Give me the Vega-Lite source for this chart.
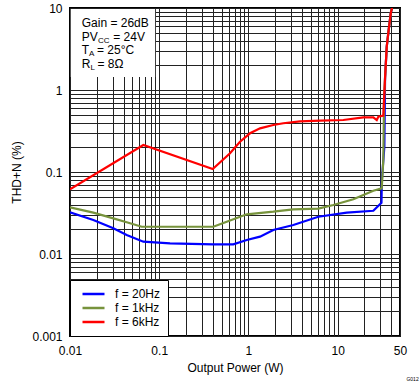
{
  "$schema": "https://vega.github.io/schema/vega-lite/v6.json",
  "width": 330,
  "height": 328,
  "autosize": {"type": "none"},
  "padding": {"left": 70, "top": 8, "right": 19, "bottom": 46},
  "background": "white",
  "title": {"text": "G012", "orient": "bottom", "anchor": "end", "fontSize": 5, "font": "Liberation Sans", "fontWeight": "normal", "dx": 12, "offset": 4, "color": "#000"},
  "config": {
    "font": "Liberation Sans",
    "view": {"stroke": "#000", "strokeWidth": 2},
    "axis": {
      "grid": true, "gridColor": "#222", "gridWidth": 1, "gridOpacity": 1,
      "ticks": false, "domain": false,
      "labelFont": "Liberation Sans", "labelFontSize": 12, "labelColor": "#000",
      "titleFont": "Liberation Sans", "titleFontSize": 12, "titleFontWeight": "normal", "titleColor": "#000",
      "labelOverlap": false, "labelFlush": false, "labelBound": false
    },
    "legend": {
      "orient": "bottom-left", "offset": 0, "fillColor": "white", "strokeColor": "#000",
      "padding": 7, "symbolType": "stroke", "symbolSize": 484, "symbolStrokeWidth": 2.5,
      "labelFont": "Liberation Sans", "labelFontSize": 12, "labelColor": "#000", "labelOffset": 9,
      "symbolOffset": 4, "rowPadding": 0, "clipHeight": 14
    }
  },
  "datasets": {
    "curves": [
      {"s": "f = 20Hz", "p": 0.01, "thd": 0.0323},
      {"s": "f = 20Hz", "p": 0.01825, "thd": 0.026},
      {"s": "f = 20Hz", "p": 0.0306, "thd": 0.0206},
      {"s": "f = 20Hz", "p": 0.0432, "thd": 0.01706},
      {"s": "f = 20Hz", "p": 0.0664, "thd": 0.01413},
      {"s": "f = 20Hz", "p": 0.1322, "thd": 0.0135},
      {"s": "f = 20Hz", "p": 0.404, "thd": 0.01313},
      {"s": "f = 20Hz", "p": 0.677, "thd": 0.01313},
      {"s": "f = 20Hz", "p": 0.957, "thd": 0.0148},
      {"s": "f = 20Hz", "p": 1.349, "thd": 0.01626},
      {"s": "f = 20Hz", "p": 1.901, "thd": 0.01963},
      {"s": "f = 20Hz", "p": 3.186, "thd": 0.0226},
      {"s": "f = 20Hz", "p": 6.075, "thd": 0.0285},
      {"s": "f = 20Hz", "p": 12.65, "thd": 0.0319},
      {"s": "f = 20Hz", "p": 25.13, "thd": 0.0337},
      {"s": "f = 20Hz", "p": 31.0, "thd": 0.0422},
      {"s": "f = 20Hz", "p": 31.3, "thd": 0.0799},
      {"s": "f = 20Hz", "p": 33.4, "thd": 0.2035},
      {"s": "f = 20Hz", "p": 34.0, "thd": 1.4},
      {"s": "f = 20Hz", "p": 35.5, "thd": 3.37},
      {"s": "f = 20Hz", "p": 37.0, "thd": 4.96},
      {"s": "f = 20Hz", "p": 39.4, "thd": 8.69},
      {"s": "f = 20Hz", "p": 40.7, "thd": 10},
      {"s": "f = 1kHz", "p": 0.01, "thd": 0.0371},
      {"s": "f = 1kHz", "p": 0.01825, "thd": 0.0319},
      {"s": "f = 1kHz", "p": 0.0306, "thd": 0.0272},
      {"s": "f = 1kHz", "p": 0.0432, "thd": 0.02435},
      {"s": "f = 1kHz", "p": 0.0637, "thd": 0.0215},
      {"s": "f = 1kHz", "p": 0.404, "thd": 0.0215},
      {"s": "f = 1kHz", "p": 0.571, "thd": 0.0248},
      {"s": "f = 1kHz", "p": 0.957, "thd": 0.0305},
      {"s": "f = 1kHz", "p": 1.901, "thd": 0.0328},
      {"s": "f = 1kHz", "p": 3.186, "thd": 0.0351},
      {"s": "f = 1kHz", "p": 6.075, "thd": 0.0357},
      {"s": "f = 1kHz", "p": 8.95, "thd": 0.0396},
      {"s": "f = 1kHz", "p": 15.0, "thd": 0.0465},
      {"s": "f = 1kHz", "p": 25.13, "thd": 0.0592},
      {"s": "f = 1kHz", "p": 31.2, "thd": 0.0633},
      {"s": "f = 1kHz", "p": 32.5, "thd": 0.14},
      {"s": "f = 1kHz", "p": 33.1, "thd": 0.755},
      {"s": "f = 1kHz", "p": 34.0, "thd": 1.4},
      {"s": "f = 1kHz", "p": 35.5, "thd": 3.37},
      {"s": "f = 1kHz", "p": 37.0, "thd": 4.96},
      {"s": "f = 1kHz", "p": 39.4, "thd": 8.69},
      {"s": "f = 1kHz", "p": 40.7, "thd": 10},
      {"s": "f = 6kHz", "p": 0.01, "thd": 0.0615},
      {"s": "f = 6kHz", "p": 0.0664, "thd": 0.2135},
      {"s": "f = 6kHz", "p": 0.398, "thd": 0.1088},
      {"s": "f = 6kHz", "p": 0.622, "thd": 0.169},
      {"s": "f = 6kHz", "p": 0.805, "thd": 0.234},
      {"s": "f = 6kHz", "p": 1.042, "thd": 0.2965},
      {"s": "f = 6kHz", "p": 1.349, "thd": 0.341},
      {"s": "f = 6kHz", "p": 1.901, "thd": 0.374},
      {"s": "f = 6kHz", "p": 2.462, "thd": 0.393},
      {"s": "f = 6kHz", "p": 3.789, "thd": 0.415},
      {"s": "f = 6kHz", "p": 6.35, "thd": 0.422},
      {"s": "f = 6kHz", "p": 11.58, "thd": 0.4305},
      {"s": "f = 6kHz", "p": 19.42, "thd": 0.4647},
      {"s": "f = 6kHz", "p": 25.13, "thd": 0.4647},
      {"s": "f = 6kHz", "p": 27.44, "thd": 0.4305},
      {"s": "f = 6kHz", "p": 28.6, "thd": 0.4725},
      {"s": "f = 6kHz", "p": 32.5, "thd": 0.486},
      {"s": "f = 6kHz", "p": 33.1, "thd": 0.755},
      {"s": "f = 6kHz", "p": 34.0, "thd": 1.4},
      {"s": "f = 6kHz", "p": 35.5, "thd": 3.37},
      {"s": "f = 6kHz", "p": 37.0, "thd": 4.96},
      {"s": "f = 6kHz", "p": 39.4, "thd": 8.69},
      {"s": "f = 6kHz", "p": 40.7, "thd": 10}
    ],
    "box": [{"x1": 0.0102, "x2": 0.09, "y1": 1.44, "y2": 9.7}],
    "main": [
      {"t": "Gain = 26dB", "x": 0.01353, "y": 5.815},
      {"t": "PV", "x": 0.01353, "y": 3.993},
      {"t": "= 24V", "x": 0.0305, "y": 3.993},
      {"t": "T", "x": 0.01353, "y": 2.748},
      {"t": "= 25°C", "x": 0.02008, "y": 2.748},
      {"t": "R", "x": 0.01353, "y": 1.871},
      {"t": "= 8Ω", "x": 0.02034, "y": 1.871}
    ],
    "sub": [
      {"t": "CC", "x": 0.0206, "y": 3.721},
      {"t": "A", "x": 0.01633, "y": 2.562},
      {"t": "L", "x": 0.01693, "y": 1.744}
    ]
  },
  "encoding": {
    "x": {
      "field": "p", "type": "quantitative",
      "scale": {"type": "log", "domain": [0.01, 50], "nice": false},
      "axis": {
        "title": "Output Power (W)", "titlePadding": 6, "labelPadding": 9,
        "values": [0.01,0.02,0.03,0.04,0.05,0.06,0.07,0.08,0.09,0.1,0.2,0.3,0.4,0.5,0.6,0.7,0.8,0.9,1,2,3,4,5,6,7,8,9,10,20,30,40,50],
        "labelExpr": "indexof([0.01,0.1,1,10,50], datum.value) >= 0 ? format(datum.value, '~g') : ''"
      }
    },
    "y": {
      "field": "thd", "type": "quantitative",
      "scale": {"type": "log", "domain": [0.001, 10], "nice": false},
      "axis": {
        "title": "THD+N (%)", "titlePadding": 8, "labelPadding": 8,
        "values": [0.001,0.002,0.003,0.004,0.005,0.006,0.007,0.008,0.009,0.01,0.02,0.03,0.04,0.05,0.06,0.07,0.08,0.09,0.1,0.2,0.3,0.4,0.5,0.6,0.7,0.8,0.9,1,2,3,4,5,6,7,8,9,10],
        "labelExpr": "indexof([0.001,0.01,0.1,1,10], datum.value) >= 0 ? format(datum.value, '~g') : ''"
      }
    }
  },
  "layer": [
    {
      "data": {"name": "box"},
      "mark": {"type": "rect", "fill": "white", "stroke": null},
      "encoding": {
        "x": {"field": "x1", "type": "quantitative"},
        "x2": {"field": "x2"},
        "y": {"field": "y1", "type": "quantitative"},
        "y2": {"field": "y2"}
      }
    },
    {
      "data": {"name": "curves"},
      "mark": {"type": "line", "strokeWidth": 2.2, "clip": true},
      "encoding": {
        "color": {
          "field": "s", "type": "nominal",
          "scale": {"domain": ["f = 20Hz", "f = 1kHz", "f = 6kHz"], "range": ["#0000FF", "#77933C", "#FF0000"]},
          "legend": {"title": null}
        }
      }
    },
    {
      "data": {"name": "main"},
      "mark": {"type": "text", "align": "left", "baseline": "alphabetic", "fontSize": 12, "font": "Liberation Sans", "color": "#000"},
      "encoding": {
        "x": {"field": "x", "type": "quantitative"},
        "y": {"field": "y", "type": "quantitative"},
        "text": {"field": "t"}
      }
    },
    {
      "data": {"name": "sub"},
      "mark": {"type": "text", "align": "left", "baseline": "alphabetic", "fontSize": 8, "font": "Liberation Sans", "color": "#000"},
      "encoding": {
        "x": {"field": "x", "type": "quantitative"},
        "y": {"field": "y", "type": "quantitative"},
        "text": {"field": "t"}
      }
    }
  ]
}
